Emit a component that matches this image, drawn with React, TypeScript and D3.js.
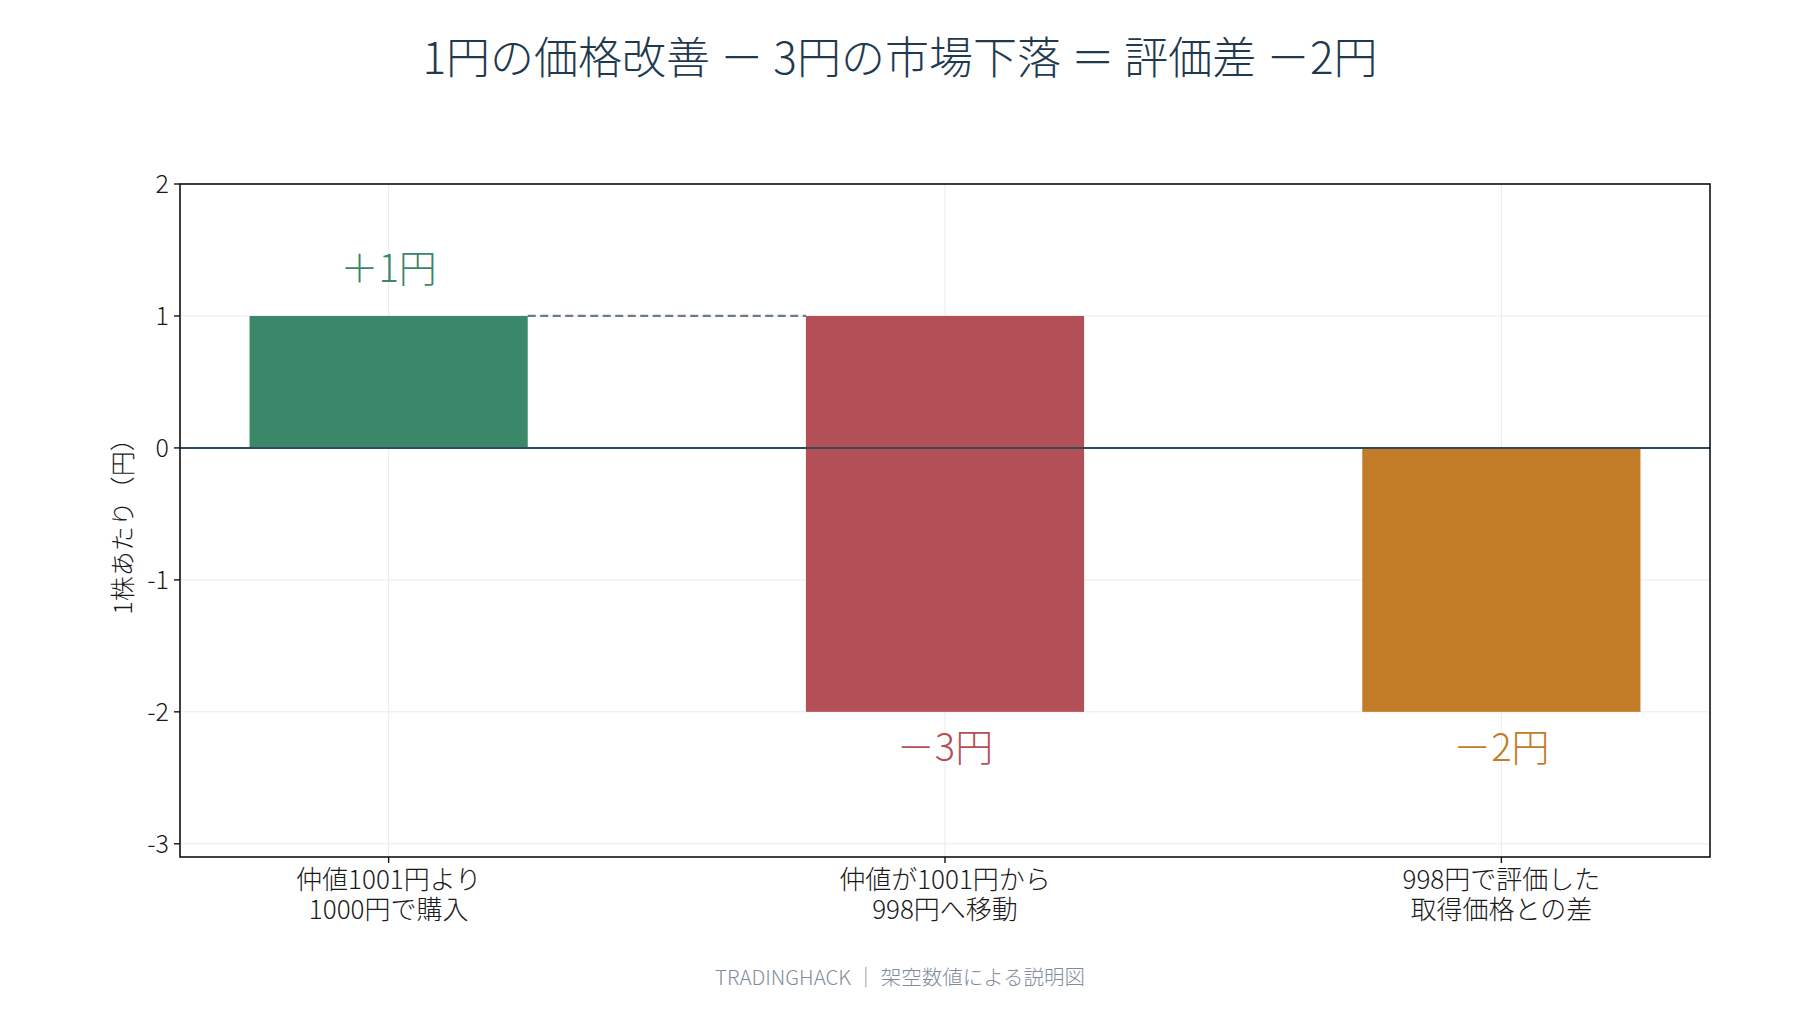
import React from "react";
import * as d3 from "d3";

const categories = ["仲値1001円より\n1000円で購入", "仲値が1001円から\n998円へ移動", "998円で評価した\n取得価格との差"];
const barBottoms = [0, -2, -2];
const barTops = [1, 1, 0];
const valueLabels = ["＋1円", "－3円", "－2円"];
const labelAnchors = [1, -2, -2];
const barColors = ["#3a876a", "#b34f57", "#c27c27"];
const yTicks = [2, 1, 0, -1, -2, -3];
const titleText = "1円の価格改善 － 3円の市場下落 ＝ 評価差 －2円";
const yLabel = "1株あたり（円）";
const footerText = "TRADINGHACK ｜ 架空数値による説明図";

const W = 1800;
const H = 1020;
const M = { left: 180, right: 1710, top: 184, bottom: 857 };
const FONT = "'Noto Sans CJK JP', 'Noto Sans', sans-serif";

export default function App() {
  const x = d3.scaleLinear().domain([-0.375, 2.375]).range([M.left, M.right]);
  const y = d3.scaleLinear().domain([-3.1, 2]).range([M.bottom, M.top]);
  const bw = x(0.25) - x(-0.25);

  return (
    <svg
      width={W}
      height={H}
      style={{ position: "absolute", left: 0, top: 0, background: "#fff" }}
      fontFamily={FONT}
      fontWeight={300}
    >
      <rect x={0} y={0} width={W} height={H} fill="#fff" />
      {/* grid */}
      {yTicks.map((t) => (
        <line key={"gy" + t} x1={M.left} x2={M.right} y1={y(t)} y2={y(t)} stroke="#ebebeb" strokeWidth={1} />
      ))}
      {categories.map((_, i) => (
        <line key={"gx" + i} x1={x(i)} x2={x(i)} y1={M.top} y2={M.bottom} stroke="#ebebeb" strokeWidth={1} />
      ))}
      {/* bars */}
      {categories.map((_, i) => (
        <rect
          key={"b" + i}
          x={x(i) - bw / 2}
          width={bw}
          y={y(barTops[i])}
          height={y(barBottoms[i]) - y(barTops[i])}
          fill={barColors[i]}
        />
      ))}
      {/* connector */}
      <line
        x1={x(0) + bw / 2}
        x2={x(1) - bw / 2}
        y1={y(barTops[0])}
        y2={y(barTops[0])}
        stroke="#6b7b8a"
        strokeWidth={2.2}
        strokeDasharray="8,4.5"
      />
      {/* zero line */}
      <line x1={M.left} x2={M.right} y1={y(0)} y2={y(0)} stroke="#2f4a5e" strokeWidth={2} />
      {/* value labels */}
      {valueLabels.map((lab, i) => (
        <text
          key={"vl" + i}
          x={x(i)}
          y={labelAnchors[i] > 0 ? y(labelAnchors[i] + 0.26) : y(labelAnchors[i] - 0.37)}
          textAnchor="middle"
          fontSize={38}
          fill={barColors[i]}
        >
          {lab}
        </text>
      ))}
      {/* frame */}
      <rect x={M.left} y={M.top} width={M.right - M.left} height={M.bottom - M.top} fill="none" stroke="#111" strokeWidth={1.6} />
      {/* y ticks */}
      {yTicks.map((t) => (
        <g key={"yt" + t}>
          <line x1={M.left - 6} x2={M.left} y1={y(t)} y2={y(t)} stroke="#111" strokeWidth={1.4} />
          <text x={M.left - 11} y={y(t)} dy="0.35em" textAnchor="end" fontSize={25} fill="#1a1a1a">
            {String(t)}
          </text>
        </g>
      ))}
      {/* x ticks */}
      {categories.map((c, i) => (
        <g key={"xt" + i}>
          <line x1={x(i)} x2={x(i)} y1={M.bottom} y2={M.bottom + 6} stroke="#111" strokeWidth={1.4} />
          <text x={x(i)} y={889} textAnchor="middle" fontSize={26} fill="#1a1a1a">
            {c.split("\n").map((ln, j) => (
              <tspan key={j} x={x(i)} dy={j === 0 ? 0 : 30}>
                {ln}
              </tspan>
            ))}
          </text>
        </g>
      ))}
      {/* y label */}
      <text
        transform={`translate(132,${(M.top + M.bottom) / 2}) rotate(-90)`}
        textAnchor="middle"
        fontSize={25}
        fill="#1a1a1a"
      >
        {yLabel}
      </text>
      {/* title */}
      <text x={900} y={74} textAnchor="middle" fontSize={44} fill="#1f3a4f">
        {titleText}
      </text>
      {/* footer */}
      <text x={900} y={985} textAnchor="middle" fontSize={20.5} fill="#7f8d9b">
        {footerText}
      </text>
    </svg>
  );
}
